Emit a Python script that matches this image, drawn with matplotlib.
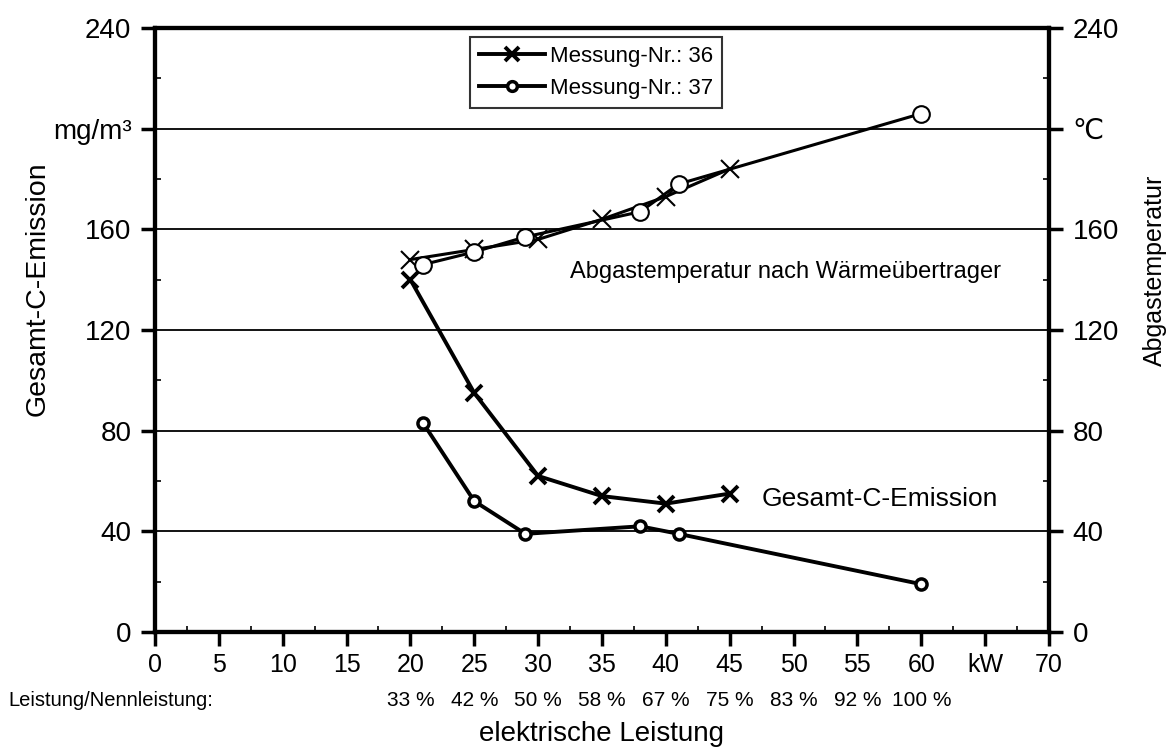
import matplotlib.pyplot as plt
from matplotlib.ticker import MultipleLocator
from matplotlib.lines import Line2D

# Messung 36 (x markers)
x36 = [20, 25, 30, 35, 40, 45]
emis36 = [140, 95, 62, 54, 51, 55]
temp36 = [148, 152, 156, 164, 173, 184]

# Messung 37 (o markers)
x37 = [21, 25, 29, 38, 41, 60]
emis37 = [83, 52, 39, 42, 39, 19]
temp37 = [146, 151, 157, 167, 178, 206]

pct_x = [20, 25, 30, 35, 40, 45, 50, 55, 60]
pct_labels = ["33 %", "42 %", "50 %", "58 %", "67 %", "75 %", "83 %", "92 %", "100 %"]

plt.rcParams['font.family'] = ['Liberation Sans', 'DejaVu Sans']

fig = plt.figure(figsize=(11.74, 7.53), dpi=100)
ax = fig.add_axes([0.132, 0.1607, 0.7615, 0.8021])

for y in [40, 80, 120, 160, 200]:
    ax.axhline(y, color='black', lw=1.3, zorder=1)

ax.plot(x36, temp36, color='black', lw=2.2, marker='x', ms=13, mew=1.5, zorder=3)
ax.plot(x37, temp37, color='black', lw=2.2, marker='o', ms=12, mfc='white', mew=1.5, zorder=3)
ax.plot(x36, emis36, color='black', lw=2.8, marker='x', ms=12, mew=2.8, zorder=3)
ax.plot(x37, emis37, color='black', lw=2.8, marker='o', ms=8, mfc='white', mew=2.5, zorder=3)

ax.set_xlim(0, 70)
ax.set_ylim(0, 240)
ax.xaxis.set_minor_locator(MultipleLocator(2.5))
ax.yaxis.set_minor_locator(MultipleLocator(20))

xt = list(range(0, 75, 5))
ax.set_xticks(xt)
ax.set_xticklabels([str(v) if v != 65 else "kW" for v in xt], fontsize=18)
yt = [0, 40, 80, 120, 160, 200, 240]
ax.set_yticks(yt)
ax.set_yticklabels([str(v) if v != 200 else "mg/m³" for v in yt], fontsize=20)

for s in ax.spines.values():
    s.set_linewidth(3)
ax.tick_params(axis='both', which='major', direction='out', length=10, width=2.5)
ax.tick_params(axis='y', which='major', pad=7)
ax.tick_params(axis='x', which='major', pad=5)
ax.tick_params(axis='both', which='minor', direction='in', length=4, width=1.2)

ax2 = ax.twinx()
ax2.set_ylim(0, 240)
ax2.set_yticks(yt)
ax2.set_yticklabels([str(v) if v != 200 else "℃" for v in yt], fontsize=20)
ax2.yaxis.set_minor_locator(MultipleLocator(20))
ax2.tick_params(axis='y', which='major', direction='out', length=10, width=2.5, pad=7)
ax2.tick_params(axis='y', which='minor', direction='in', length=4, width=1.2)
for s in ax2.spines.values():
    s.set_linewidth(3)

ax.set_ylabel("Gesamt-C-Emission", fontsize=20.5)
ax.yaxis.set_label_coords(-0.117, 0.568)
ax2.set_ylabel("Abgastemperatur", fontsize=18)
ax2.yaxis.set_label_coords(1.105, 0.599)
ax.set_xlabel("elektrische Leistung", fontsize=20)
ax.xaxis.set_label_coords(0.5, -0.147)

ax.text(32.5, 143, "Abgastemperatur nach Wärmeübertrager", fontsize=17, va='center')
ax.text(47.5, 53, "Gesamt-C-Emission", fontsize=19, va='center')

trans = ax.get_xaxis_transform()
for xv, lab in zip(pct_x, pct_labels):
    ax.text(xv, -0.113, lab, transform=trans, fontsize=15, ha='center', va='center')
ax.text(-11.5, -0.113, "Leistung/Nennleistung:", transform=trans, fontsize=14.5,
        ha='left', va='center', clip_on=False)

handles = [
    Line2D([], [], color='black', lw=2.8, marker='x', ms=10, mew=2.8),
    Line2D([], [], color='black', lw=2.8, marker='o', ms=7, mfc='white', mew=2.5),
]
leg = ax.legend(handles, ["Messung-Nr.: 36", "Messung-Nr.: 37"], loc='upper left',
                bbox_to_anchor=(0.352, 0.985), prop={'size': 16},
                frameon=True, fancybox=False, edgecolor='black', handlelength=3.0,
                handletextpad=0.2, borderpad=0.4, labelspacing=0.5, borderaxespad=0)
leg.get_frame().set_linewidth(1.5)

fig.savefig("out.png", dpi=100)
